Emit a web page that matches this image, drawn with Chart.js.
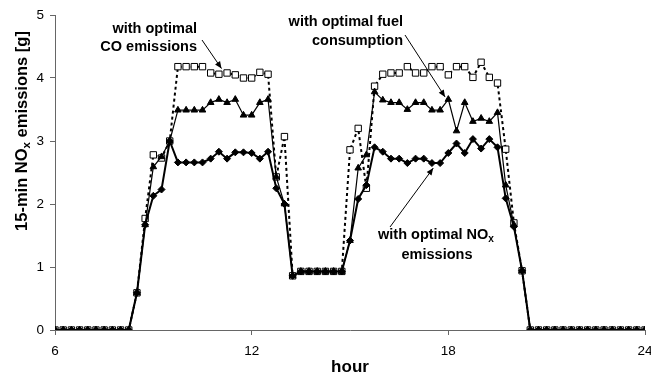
<!DOCTYPE html>
<html>
<head>
<meta charset="utf-8">
<script src="https://cdn.jsdelivr.net/npm/chart.js@4/dist/chart.umd.min.js"></script>
<style>
  html, body { margin: 0; padding: 0; background: #fff; }
  #wrap { width: 651px; height: 378px; position: relative; }
</style>
</head>
<body>
<div id="wrap"><canvas id="noxChart"></canvas></div>
<script>
// 15-minute slots from 6:00 to 24:00
const hours = Array.from({ length: 73 }, (_, i) => 6 + i * 0.25);

const noxOptimal = [
  0, 0, 0, 0, 0, 0, 0, 0, 0, 0,
  0.59, 1.67, 2.13, 2.23, 3.0,
  2.66, 2.66, 2.66, 2.66, 2.72, 2.83, 2.72, 2.82, 2.82, 2.81, 2.72, 2.83,
  2.25, 2.0, 0.86,
  0.93, 0.93, 0.93, 0.93, 0.93, 0.93,
  1.42, 2.08, 2.3, 2.9,
  2.83, 2.72, 2.72, 2.65, 2.72, 2.72, 2.65, 2.65, 2.81, 2.96, 2.81, 3.03, 2.88, 3.03, 2.9,
  2.09, 1.64, 0.94,
  0, 0, 0, 0, 0, 0, 0, 0, 0, 0, 0, 0, 0, 0, 0
];

const fuelOptimal = [
  0, 0, 0, 0, 0, 0, 0, 0, 0, 0,
  0.59, 1.67, 2.59, 2.75, 3.0,
  3.49, 3.49, 3.49, 3.49, 3.61, 3.66, 3.61, 3.66, 3.41, 3.41, 3.61, 3.66,
  2.43, 2.0, 0.86,
  0.93, 0.93, 0.93, 0.93, 0.93, 0.93,
  1.42, 2.57, 2.78, 3.78,
  3.65, 3.61, 3.61, 3.5, 3.61, 3.61, 3.49, 3.49, 3.66, 3.16, 3.61, 3.31, 3.36, 3.31, 3.45,
  2.3, 1.67, 0.94,
  0, 0, 0, 0, 0, 0, 0, 0, 0, 0, 0, 0, 0, 0, 0
];

const coOptimal = [
  0, 0, 0, 0, 0, 0, 0, 0, 0, 0,
  0.59, 1.77, 2.78, 2.73, 3.0,
  4.18, 4.18, 4.18, 4.18, 4.08, 4.06, 4.08, 4.05, 4.0, 4.0, 4.09, 4.06,
  2.43, 3.07, 0.86,
  0.93, 0.93, 0.93, 0.93, 0.93, 0.93,
  2.86, 3.2, 2.25, 3.87,
  4.06, 4.08, 4.08, 4.18, 4.08, 4.08, 4.18, 4.18, 4.05, 4.18, 4.18, 4.01, 4.25, 4.01, 3.92,
  2.87, 1.7, 0.94,
  0, 0, 0, 0, 0, 0, 0, 0, 0, 0, 0, 0, 0, 0, 0
];

const xTicks = [6, 12, 18, 24];
const yTicks = [0, 1, 2, 3, 4, 5];

const toPoints = vals => vals.map((v, i) => ({ x: hours[i], y: v }));

const FONT = "'Liberation Sans', Arial, sans-serif";

// text with a subscript part
function drawSub(ctx, parts, x, y, size, align) {
  const widths = parts.map(p => {
    ctx.font = "bold " + (p.sub ? size * 0.7 : size) + "px " + FONT;
    return ctx.measureText(p.t).width;
  });
  const total = widths.reduce((a, b) => a + b, 0);
  let cx = align === "center" ? x - total / 2 : align === "right" ? x - total : x;
  ctx.textAlign = "left";
  ctx.textBaseline = "middle";
  parts.forEach((p, i) => {
    ctx.font = "bold " + (p.sub ? size * 0.7 : size) + "px " + FONT;
    ctx.fillText(p.t, cx, p.sub ? y + size * 0.3 : y);
    cx += widths[i];
  });
}

function arrow(ctx, x1, y1, x2, y2) {
  ctx.save();
  ctx.strokeStyle = "#000";
  ctx.fillStyle = "#000";
  ctx.lineWidth = 1;
  ctx.beginPath();
  ctx.moveTo(x1, y1);
  ctx.lineTo(x2, y2);
  ctx.stroke();
  const a = Math.atan2(y2 - y1, x2 - x1);
  const L = 7, W = 3;
  ctx.beginPath();
  ctx.moveTo(x2, y2);
  ctx.lineTo(x2 - L * Math.cos(a) + W * Math.sin(a), y2 - L * Math.sin(a) - W * Math.cos(a));
  ctx.lineTo(x2 - L * Math.cos(a) - W * Math.sin(a), y2 - L * Math.sin(a) + W * Math.cos(a));
  ctx.closePath();
  ctx.fill();
  ctx.restore();
}

const labelsPlugin = {
  id: "labels",
  afterDraw(chart) {
    const ctx = chart.ctx;
    const xs = chart.scales.x, ys = chart.scales.y;
    ctx.save();
    ctx.fillStyle = "#000";

    // y axis title
    ctx.save();
    ctx.translate(22, 131);
    ctx.rotate(-Math.PI / 2);
    drawSub(ctx, [{ t: "15-min NO" }, { t: "x", sub: true }, { t: " emissions [g]" }], 0, 0, 16.5, "center");
    ctx.restore();

    // annotations
    const fs = 14.5;
    drawSub(ctx, [{ t: "with optimal" }], 197, 29, fs, "right");
    drawSub(ctx, [{ t: "CO emissions" }], 197, 47, fs, "right");
    arrow(ctx, 202, 40, xs.getPixelForValue(11.08), ys.getPixelForValue(4.15));

    drawSub(ctx, [{ t: "with optimal fuel" }], 403, 22, fs, "right");
    drawSub(ctx, [{ t: "consumption" }], 403, 41, fs, "right");
    arrow(ctx, 405, 35, xs.getPixelForValue(17.9), ys.getPixelForValue(3.7));

    drawSub(ctx, [{ t: "with optimal NO" }, { t: "x", sub: true }], 436, 235, fs, "center");
    drawSub(ctx, [{ t: "emissions" }], 437, 255, fs, "center");
    arrow(ctx, 390, 227, xs.getPixelForValue(17.54), ys.getPixelForValue(2.57));

    ctx.restore();
  }
};

new Chart(document.getElementById("noxChart"), {
  type: "line",
  data: {
    datasets: [
      {
        label: "with optimal NOx emissions",
        data: toPoints(noxOptimal),
        borderColor: "#000",
        backgroundColor: "#000",
        borderWidth: 2,
        pointStyle: "rectRot",
        pointRadius: 3.5,
        pointBorderWidth: 1,
        tension: 0
      },
      {
        label: "with optimal fuel consumption",
        data: toPoints(fuelOptimal),
        borderColor: "#000",
        backgroundColor: "#000",
        borderWidth: 1.2,
        pointStyle: "triangle",
        pointRadius: 3.8,
        pointBorderWidth: 1,
        tension: 0
      },
      {
        label: "with optimal CO emissions",
        data: toPoints(coOptimal),
        borderColor: "#000",
        backgroundColor: "#fff",
        borderWidth: 2,
        borderDash: [3, 3],
        pointStyle: "rect",
        pointRadius: 4.5,
        pointBorderWidth: 1,
        tension: 0
      }
    ]
  },
  options: {
    responsive: true,
    maintainAspectRatio: false,
    animation: false,
    layout: { padding: { left: 0, right: 6, top: 15, bottom: 0 } },
    plugins: {
      legend: { display: false },
      tooltip: { enabled: false }
    },
    scales: {
      x: {
        type: "linear",
        min: 6,
        max: 24,
        afterBuildTicks: s => { s.ticks = xTicks.map(v => ({ value: v })); },
        afterFit: s => { s.height = 48; s.paddingRight = 0; s.paddingLeft = 0; },
        ticks: { color: "#000", font: { family: FONT, size: 13.5 }, padding: 8 },
        grid: { display: true, drawOnChartArea: false, drawTicks: true, tickLength: 5, color: "#666" },
        border: { color: "#666", width: 1 },
        title: {
          display: true,
          text: "hour",
          color: "#000",
          font: { family: FONT, size: 17, weight: "bold" },
          padding: { top: 0, bottom: 0 }
        }
      },
      y: {
        min: 0,
        max: 5,
        afterBuildTicks: s => { s.ticks = yTicks.map(v => ({ value: v })); },
        afterFit: s => { s.width = 55; },
        ticks: { color: "#000", font: { family: FONT, size: 13.5 }, padding: 6 },
        grid: { display: true, drawOnChartArea: false, drawTicks: true, tickLength: 5, color: "#666" },
        border: { color: "#666", width: 1 }
      }
    }
  },
  plugins: [labelsPlugin]
});
</script>
</body>
</html>
